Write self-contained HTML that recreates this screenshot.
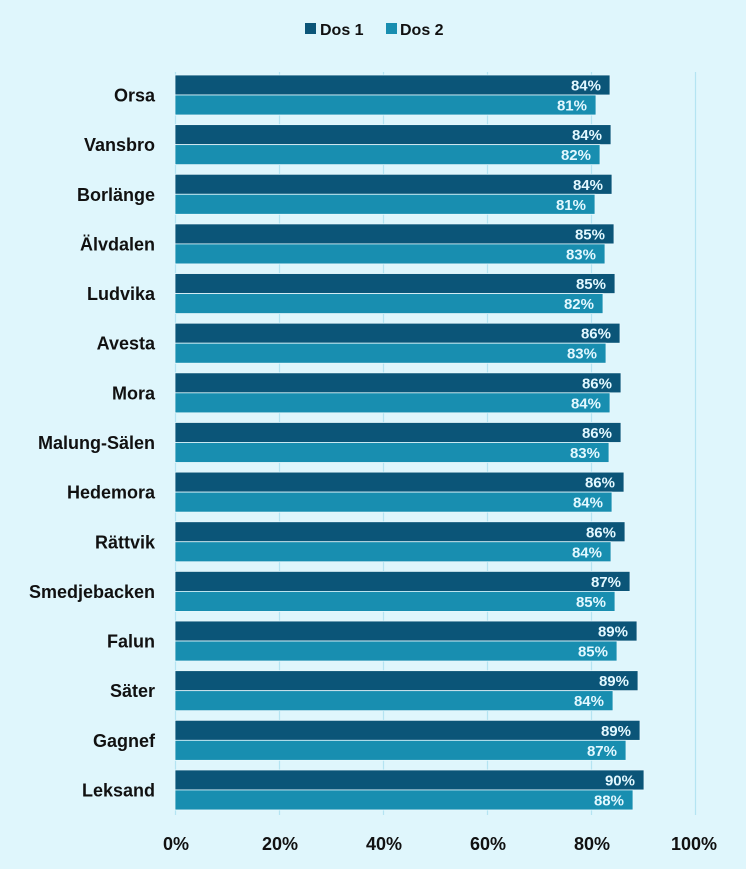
<!DOCTYPE html>
<html><head><meta charset="utf-8"><style>
html,body{margin:0;padding:0;background:#dff6fc;}
svg{display:block;font-family:"Liberation Sans",sans-serif;font-weight:bold;}
</style></head><body>
<svg width="746" height="869" viewBox="0 0 746 869" xmlns="http://www.w3.org/2000/svg">
<rect width="746" height="869" fill="#dff6fc"/>
<g stroke="#b4e4f2" stroke-width="1.2">
<line x1="175.5" y1="72" x2="175.5" y2="815"/>
<line x1="279.5" y1="72" x2="279.5" y2="815"/>
<line x1="383.5" y1="72" x2="383.5" y2="815"/>
<line x1="487.5" y1="72" x2="487.5" y2="815"/>
<line x1="591.5" y1="72" x2="591.5" y2="815"/>
<line x1="695.5" y1="72" x2="695.5" y2="815"/>
</g>
<g id="legend" font-size="16">
<rect x="305" y="23" width="11" height="11" fill="#0b5578"/>
<text x="320" y="35" fill="#111">Dos 1</text>
<rect x="386" y="23" width="11" height="11" fill="#188eb0"/>
<text x="400" y="35" fill="#111">Dos 2</text>
</g>
<g id="bars"></g>
<g font-size="18" fill="#111" text-anchor="middle">
<text x="176" y="850">0%</text>
<text x="280" y="850">20%</text>
<text x="384" y="850">40%</text>
<text x="488" y="850">60%</text>
<text x="592" y="850">80%</text>
<text x="694" y="850">100%</text>
</g>
</svg>
<script>
var names=["Orsa","Vansbro","Borlänge","Älvdalen","Ludvika","Avesta","Mora","Malung-Sälen","Hedemora","Rättvik","Smedjebacken","Falun","Säter","Gagnef","Leksand"];
var d1=[84,84,84,85,85,86,86,86,86,86,87,89,89,89,90];
var d2=[81,82,81,83,82,83,84,83,84,84,85,85,84,87,88];
var e1=[610,611,612,614,615,620,621,621,624,625,630,637,638,640,644];
var e2=[596,600,595,605,603,606,610,609,612,611,615,617,613,626,633];
var s="";
for(var i=0;i<15;i++){
 var y=75+i*49.64;
 s+='<rect x="175" y="'+y+'" width="'+(e1[i]-175)+'" height="20" fill="#0b5578" stroke="#e6f8fd" stroke-width="0.8"/>';
 s+='<rect x="175" y="'+(y+20)+'" width="'+(e2[i]-175)+'" height="20" fill="#188eb0" stroke="#e6f8fd" stroke-width="0.8"/>';
 s+='<text x="'+(e1[i]-9)+'" y="'+(y+15.5)+'" font-size="15" fill="#e2f8ff" text-anchor="end">'+d1[i]+'%</text>';
 s+='<text x="'+(e2[i]-9)+'" y="'+(y+35.5)+'" font-size="15" fill="#e2f8ff" text-anchor="end">'+d2[i]+'%</text>';
 s+='<text x="155" y="'+(y+26.5)+'" font-size="18" fill="#111" text-anchor="end">'+names[i]+'</text>';
}
document.getElementById("bars").innerHTML=s;
</script>
</body></html>
